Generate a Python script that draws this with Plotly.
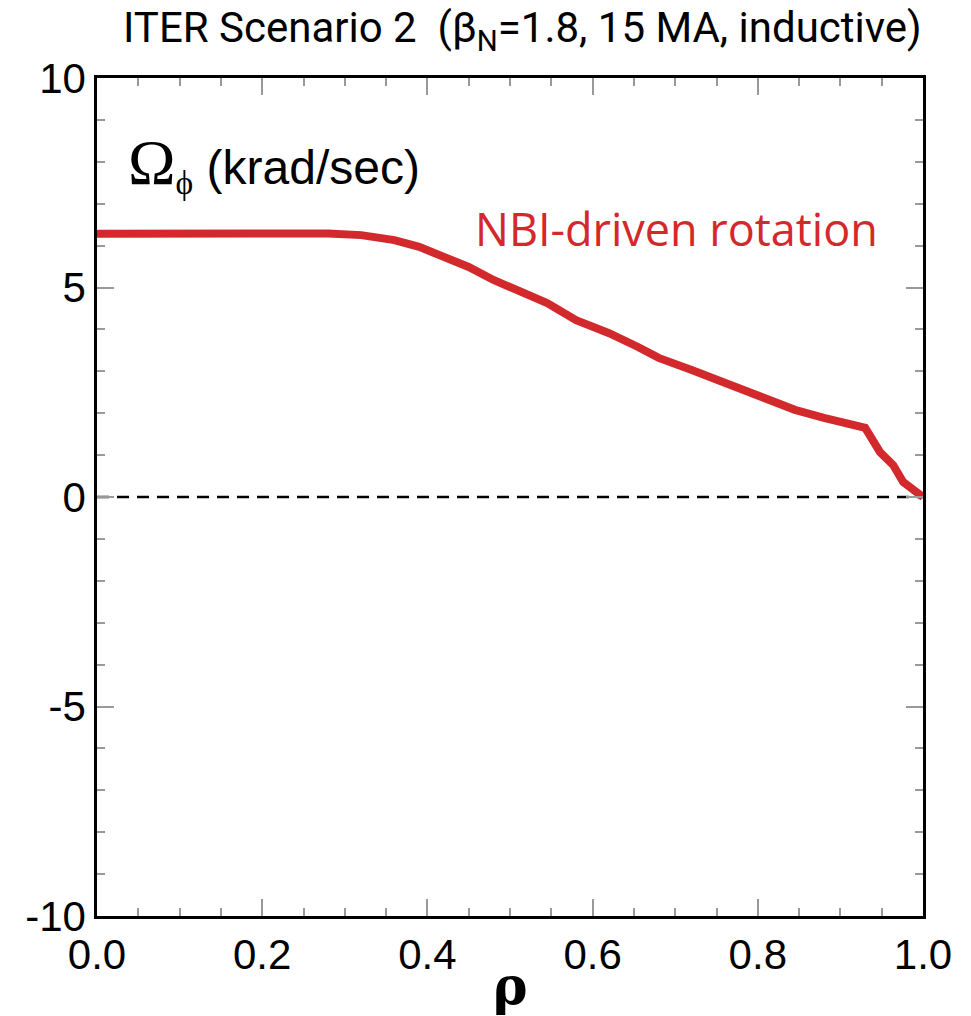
import plotly.graph_objects as go

# Toroidal rotation profile, ITER Scenario 2
rho = [0.0, 0.10, 0.20, 0.28, 0.32, 0.36, 0.39, 0.42, 0.45, 0.48, 0.52,
       0.545, 0.58, 0.62, 0.655, 0.68, 0.72, 0.745, 0.78, 0.81, 0.845,
       0.88, 0.91, 0.93, 0.948, 0.964, 0.976, 1.0]
omega = [6.28, 6.30, 6.30, 6.29, 6.25, 6.13, 5.97, 5.73, 5.49, 5.18, 4.87,
         4.63, 4.22, 3.91, 3.58, 3.32, 3.03, 2.84, 2.55, 2.31, 2.08,
         1.89, 1.74, 1.65, 1.07, 0.76, 0.36, 0.0]

x_ticks = [0.0, 0.2, 0.4, 0.6, 0.8, 1.0]
x_ticktext = ["0.0", "0.2", "0.4", "0.6", "0.8", "1.0"]
y_ticks = [-10, -5, 0, 5, 10]
y_ticktext = ["-10", "-5", "0", "5", "10"]

RED = "#d2292d"
SANS = "Liberation Sans, Arial, sans-serif"
TITLE_FONT = "Roboto, Liberation Sans, sans-serif"
LABEL_FONT = "Open Sans, Noto Sans, sans-serif"
SERIF = "DejaVu Serif, Liberation Serif, serif"

fig = go.Figure()

# zero reference line
fig.add_trace(go.Scatter(
    x=[0.0, 1.0], y=[0, 0], mode="lines",
    line=dict(color="black", width=2.5, dash="12px,8px"),
    hoverinfo="skip", showlegend=False,
))

fig.add_trace(go.Scatter(
    x=rho, y=omega, mode="lines",
    line=dict(color=RED, width=8),
    showlegend=False,
))

axis_common = dict(
    showgrid=False, zeroline=False,
    showline=True, linecolor="black", linewidth=2.5, mirror="ticks",
    ticks="inside", ticklen=17, tickwidth=1.5, tickcolor="#999999",
    tickfont=dict(family=SANS, size=42, color="black"),
)

fig.update_xaxes(
    range=[0, 1], tickvals=x_ticks, ticktext=x_ticktext,
    minor=dict(dtick=0.05, ticks="inside", ticklen=8, tickwidth=1.5,
               tickcolor="#999999"),
    **axis_common,
)
fig.update_yaxes(
    range=[-10, 10], tickvals=y_ticks, ticktext=y_ticktext,
    minor=dict(dtick=1, ticks="inside", ticklen=8, tickwidth=1.5,
               tickcolor="#999999"),
    **axis_common,
)

fig.add_annotation(
    x=0.515, y=1.0, xref="paper", yref="paper", yshift=48,
    text="ITER Scenario 2  (β<sub>N</sub>=1.8, 15 MA, inductive)",
    showarrow=False, xanchor="center", yanchor="middle",
    font=dict(family=TITLE_FONT, size=42, color="black"),
)
fig.add_annotation(
    x=0.035, y=7.95, xref="paper", yref="y",
    text="<span style='font-family:Liberation Serif,serif;font-size:64px'>Ω</span>"
         "<sub><span style='font-family:Liberation Serif,serif'>ϕ</span></sub>"
         " (krad/sec)",
    showarrow=False, xanchor="left", yanchor="middle",
    font=dict(family=SANS, size=48, color="black"),
)
fig.add_annotation(
    x=0.948, y=6.4, xref="paper", yref="y",
    text="NBI-driven rotation",
    showarrow=False, xanchor="right", yanchor="middle",
    font=dict(family=LABEL_FONT, size=45, color=RED),
)
fig.add_annotation(
    x=0.5, y=0, xref="paper", yref="paper", yshift=-102,
    text="<b>ρ</b>", showarrow=False, xanchor="center", yanchor="bottom",
    font=dict(family=SERIF, size=52, color="black"),
)

fig.update_layout(
    width=971, height=1016,
    margin=dict(l=97, r=48, t=78, b=100),
    paper_bgcolor="white", plot_bgcolor="white",
)

fig.write_html("out.html")
